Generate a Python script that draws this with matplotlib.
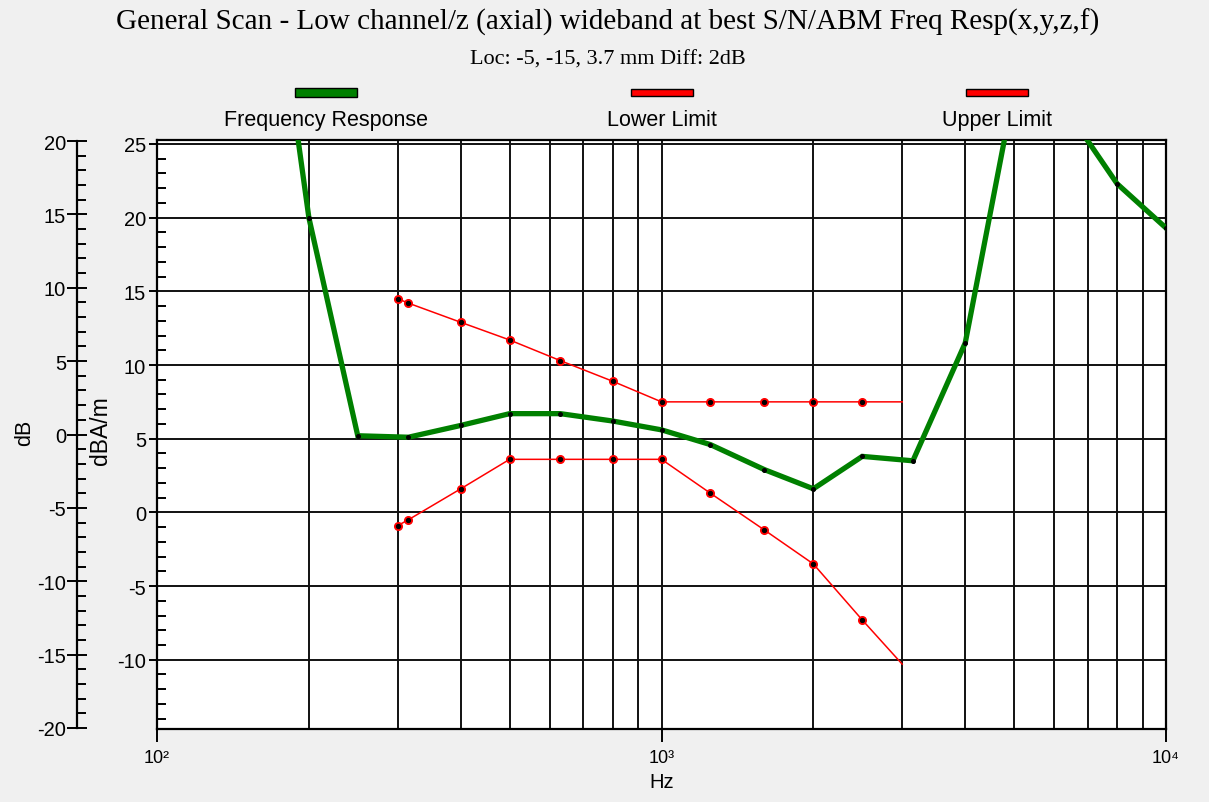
import matplotlib.pyplot as plt
from matplotlib.patches import Rectangle
from matplotlib.ticker import MultipleLocator, FixedLocator, LogLocator, NullFormatter

# ---- data ----
freq_hz = [160, 200, 250, 315, 400, 500, 630, 800, 1000, 1250, 1600, 2000,
           2500, 3150, 4000, 5000, 6300, 8000, 10000]
response = [44.0, 20.0, 5.2, 5.1, 5.9, 6.7, 6.7, 6.2, 5.6, 4.6, 2.9, 1.6,
            3.8, 3.5, 11.5, 28.7, 27.5, 22.3, 19.3]

limit_freq = [300, 315, 400, 500, 630, 800, 1000, 1250, 1600, 2000, 2500, 3000]
upper_limit = [14.5, 14.2, 12.9, 11.7, 10.3, 8.9, 7.5, 7.5, 7.5, 7.5, 7.5, 7.5]
lower_limit = [-0.9, -0.5, 1.6, 3.6, 3.6, 3.6, 3.6, 1.3, -1.2, -3.5, -7.3, -10.3]

legend_labels = ["Frequency Response", "Lower Limit", "Upper Limit"]
x_ticks = [100, 1000, 10000]
x_ticklabels = ["10²", "10³", "10⁴"]

W, H = 1209, 803
BG = "#f0f0f0"
GREEN = "#008000"
RED = "#ff0000"
SANS = ["Liberation Sans", "DejaVu Sans"]
SERIF = ["Liberation Serif", "DejaVu Serif"]

plt.rcParams["font.family"] = SANS
plt.rcParams["axes.unicode_minus"] = False

fig = plt.figure(figsize=(W / 100, H / 100), dpi=100, facecolor=BG)


def fx(px):
    return px / W


def fy(py):
    return 1 - py / H


# main plot (dBA/m)
ax = fig.add_axes([fx(157), fy(730), fx(1166) - fx(157), fy(141) - fy(730)])
ax.set_facecolor("white")
ax.set_xscale("log")
ax.set_xlim(100, 10000)
ax.set_ylim(-14.7, 25.27)

ax.xaxis.set_major_locator(FixedLocator(x_ticks))
ax.set_xticklabels(x_ticklabels, fontsize=13)
ax.xaxis.set_minor_locator(LogLocator(base=10, subs=range(2, 10)))
ax.xaxis.set_minor_formatter(NullFormatter())
ax.yaxis.set_major_locator(MultipleLocator(5))
ax.yaxis.set_minor_locator(MultipleLocator(1))

ax.grid(which="both", axis="x", color="#111111", linewidth=1.4)
ax.grid(which="major", axis="y", color="#111111", linewidth=1.4)
ax.set_axisbelow(True)

ax.tick_params(axis="x", which="major", direction="out", length=9.5, width=1.4,
               pad=5, colors="black")
ax.tick_params(axis="x", which="minor", length=0)
ax.tick_params(axis="y", which="major", direction="out", length=6, width=1.4,
               labelsize=14.5, pad=2)
ax.tick_params(axis="y", which="minor", direction="in", length=6.5, width=1.4)
for s in ax.spines.values():
    s.set_linewidth(1.6)
    s.set_color("black")

ax.plot(limit_freq, upper_limit, color=RED, linewidth=1.1, zorder=3)
ax.plot(limit_freq, lower_limit, color=RED, linewidth=1.1, zorder=3)
for lim in (upper_limit, lower_limit):
    ax.plot(limit_freq[:-1], lim[:-1], linestyle="none", marker="o",
            markersize=5.5, color=RED, zorder=4)
    ax.plot(limit_freq[:-1], lim[:-1], linestyle="none", marker="o",
            markersize=2.8, color="black", zorder=5)

ax.plot(freq_hz, response, color=GREEN, linewidth=3.8, zorder=6,
        solid_joinstyle="miter")
ax.plot(freq_hz, response, linestyle="none", marker="o", markersize=2.6,
        color="black", zorder=7)

ax.set_xlabel("Hz", fontsize=14.5, labelpad=4)

# left auxiliary dB axis
ax2 = fig.add_axes([fx(77), fy(729), 0.001, fy(142) - fy(729)])
ax2.patch.set_visible(False)
for side in ("top", "right", "bottom"):
    ax2.spines[side].set_visible(False)
ax2.spines["left"].set_linewidth(1.6)
ax2.set_ylim(-20, 20)
ax2.set_xticks([])
ax2.yaxis.set_major_locator(MultipleLocator(5))
ax2.yaxis.set_minor_locator(MultipleLocator(1))
ax2.tick_params(axis="y", which="major", direction="inout", length=14, width=1.4,
                labelsize=14.5, pad=1)
ax2.tick_params(axis="y", which="minor", direction="in", length=6.5, width=1.4)

fig.text(fx(25), fy(433), "dB", rotation=90, ha="center", va="center", fontsize=15.5)
fig.text(fx(100), fy(431), "dBA/m", rotation=90, ha="center", va="center", fontsize=16.5)

# titles
fig.text(fx(608), fy(22), "General Scan - Low channel/z (axial) wideband at best S/N/ABM Freq Resp(x,y,z,f)",
         ha="center", va="center", fontsize=21, family=SERIF)
fig.text(fx(608), fy(60), "Loc: -5, -15, 3.7 mm Diff: 2dB",
         ha="center", va="center", fontsize=16, family=SERIF)

# legend row (swatches above labels)
legend_colors = [GREEN, RED, RED]
legend_x = [326, 662, 997]
legend_h = [9, 7, 7]
for lab, col, cx, hh in zip(legend_labels, legend_colors, legend_x, legend_h):
    fig.patches.append(Rectangle((fx(cx - 31), fy(93 + hh / 2)), 62 / W, hh / H,
                                 transform=fig.transFigure, facecolor=col,
                                 edgecolor="black", linewidth=1.0))
    fig.text(fx(cx), fy(121), lab, ha="center", va="center", fontsize=15.5)

fig.savefig("out.png", dpi=100, facecolor=BG)
